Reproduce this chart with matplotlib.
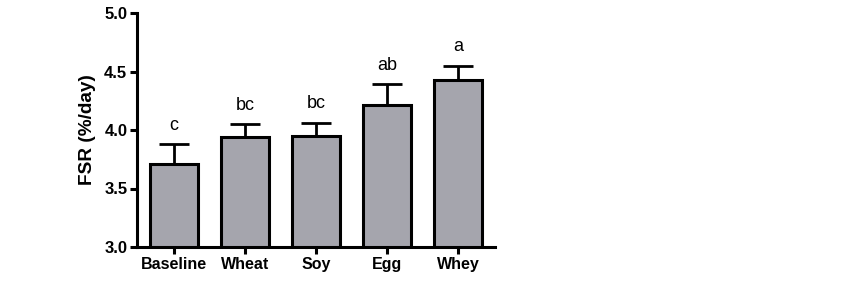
import matplotlib

matplotlib.use('Agg')

import matplotlib.pyplot as plt

plt.rcParams['font.family'] = ['Liberation Sans', 'DejaVu Sans']

groups = ['Baseline', 'Wheat', 'Soy', 'Egg', 'Whey']
fsr_means = [3.71, 3.94, 3.95, 4.21, 4.43]
fsr_err = [0.17, 0.11, 0.11, 0.18, 0.12]
sig_letters = ['c', 'bc', 'bc', 'ab', 'a']
y_ticks = [3.0, 3.5, 4.0, 4.5, 5.0]

fig = plt.figure(figsize=(8.63, 2.85), dpi=100)
ax = fig.add_axes([137 / 863, 1 - 247 / 285, (495 - 137) / 863, (247 - 13) / 285])

x = range(len(groups))
ax.bar(x, fsr_means, width=0.68, color='#a5a5ad', edgecolor='black', linewidth=2.2, zorder=2)
ax.errorbar(x, fsr_means, yerr=[[0] * len(groups), fsr_err], fmt='none', ecolor='black',
            elinewidth=2.0, capsize=11, capthick=2.0, zorder=1)

for xi, m, e, lab in zip(x, fsr_means, fsr_err, sig_letters):
    ax.text(xi, m + e + 0.09, lab, ha='center', va='bottom', fontsize=13)

ax.set_xlim(-0.52, 4.52)
ax.set_ylim(3.0, 5.0)
ax.set_yticks(y_ticks)
ax.set_yticklabels([f'{t:.1f}' for t in y_ticks], fontweight='bold', fontsize=12)
ax.set_xticks(list(x))
ax.set_xticklabels(groups, fontweight='bold', fontsize=11.5)
ax.set_ylabel('FSR (%/day)', fontweight='bold', fontsize=13.7, labelpad=6)

for side in ['top', 'right']:
    ax.spines[side].set_visible(False)
for side in ['left', 'bottom']:
    ax.spines[side].set_linewidth(2.2)
ax.tick_params(width=2.2, length=5, pad=2)

fig.savefig('out.png', dpi=100)
